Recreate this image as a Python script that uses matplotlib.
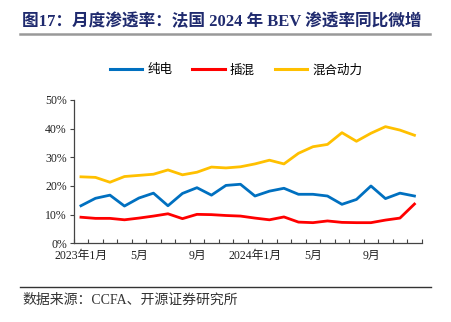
import matplotlib
matplotlib.use("Agg")
import matplotlib.pyplot as plt
from matplotlib.lines import Line2D
from matplotlib.ticker import FixedLocator, PercentFormatter

months = ["2023年1月", "", "", "", "5月", "", "", "", "9月", "", "", "",
          "2024年1月", "", "", "", "5月", "", "", "", "9月", "", "", ""]
bev = [13.1, 15.7, 16.8, 13.0, 15.8, 17.5, 13.1, 17.4, 19.4, 16.8, 20.2, 20.6,
       16.5, 18.2, 19.2, 17.1, 17.1, 16.5, 13.6, 15.3, 20.0, 15.6, 17.5, 16.5]
phev = [9.1, 8.7, 8.7, 8.2, 8.8, 9.5, 10.3, 8.6, 10.1, 10.0, 9.7, 9.5,
        8.8, 8.2, 9.2, 7.4, 7.2, 7.8, 7.3, 7.2, 7.2, 8.1, 8.8, 13.7]
hev = [23.2, 23.0, 21.3, 23.3, 23.7, 24.1, 25.6, 23.9, 24.8, 26.6, 26.3, 26.7,
       27.7, 29.0, 27.7, 31.4, 33.7, 34.5, 38.6, 35.6, 38.4, 40.7, 39.5, 37.7]

serif = ["Liberation Serif", "Noto Sans CJK SC"]
cjk = ["Noto Sans CJK SC", "DejaVu Sans"]

W, H = 451, 322
fig = plt.figure(figsize=(W / 100, H / 100), dpi=100)
fig.patch.set_facecolor("white")

ax = fig.add_axes([73.7 / W, 1 - 243.3 / H, 348 / W, 143.3 / H])
x = list(range(len(months)))
ax.plot(x, bev, color="#0070C0", lw=2.0)
ax.plot(x, phev, color="#FF0000", lw=2.0)
ax.plot(x, hev, color="#FFC000", lw=2.0)

ax.set_xlim(-0.5, len(months) - 0.5)
ax.set_ylim(0, 50)
ax.set_yticks([0, 10, 20, 30, 40, 50])
ax.yaxis.set_major_formatter(PercentFormatter(decimals=0))
ax.set_xticks(x)
ax.set_xticklabels(months)
ax.tick_params(axis="x", length=0, pad=5)
ax.xaxis.set_minor_locator(FixedLocator([i - 0.5 for i in range(len(months) + 1)]))
ax.tick_params(axis="x", which="minor", direction="in", length=3, width=0.8, color="#444444")
ax.tick_params(axis="y", direction="out", length=3, width=0.8, color="#444444", pad=2)
for lab in ax.get_xticklabels() + ax.get_yticklabels():
    lab.set_family(serif)
    lab.set_fontsize(8.5)
    lab.set_color("#222222")
for s in ["top", "right"]:
    ax.spines[s].set_visible(False)
for s in ["left", "bottom"]:
    ax.spines[s].set_color("#444444")
    ax.spines[s].set_linewidth(0.9)

handles = [Line2D([], [], color=c, lw=2.2) for c in ["#0070C0", "#FF0000", "#FFC000"]]
fig.legend(handles, ["纯电", "插混", "混合动力"], loc="center",
           bbox_to_anchor=(236 / W, 1 - 70 / H), ncol=3, frameon=False,
           prop={"family": cjk, "size": 9}, handlelength=2.6, handletextpad=0.4,
           columnspacing=1.6)

fig.text(22 / W, 1 - 22 / H, "图17：月度渗透率：法国 2024 年 BEV 渗透率同比微增",
         family=["Liberation Serif", "Noto Sans CJK SC"], fontweight="bold",
         fontsize=12, color="#1F2A6E", va="center", ha="left")
fig.add_artist(Line2D([20 / W, 430 / W], [1 - 34.3 / H] * 2, color="#999999", lw=1.8))
fig.add_artist(Line2D([20 / W, 431 / W], [1 - 287.3 / H] * 2, color="#333333", lw=1.0))
fig.text(22 / W, 1 - 300 / H, "数据来源：CCFA、开源证券研究所",
         family=["Liberation Serif", "Noto Sans CJK SC"], fontsize=10,
         color="#333333", va="center", ha="left")

fig.savefig("out.png", dpi=100)
